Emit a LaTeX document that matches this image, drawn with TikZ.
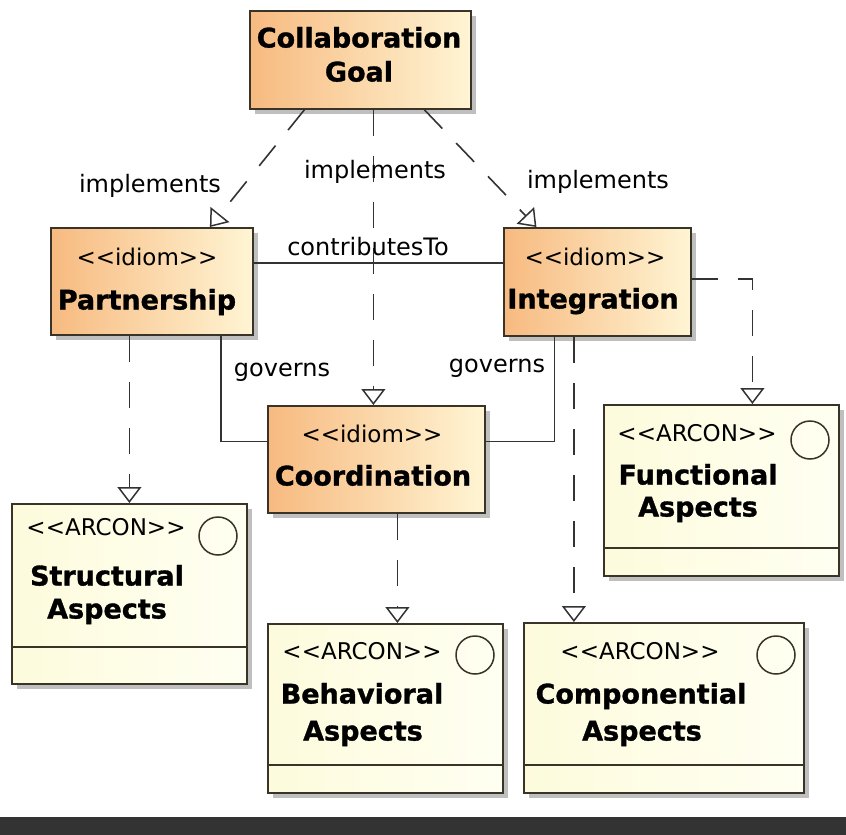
\documentclass[tikz,border=0pt]{standalone}
\usepackage{fontspec}
\setmainfont{DejaVu Sans}[BoldFeatures={FakeBold=1.2}]
\usetikzlibrary{arrows.meta,shadows,calc}
\definecolor{idL}{HTML}{F7BA80}
\definecolor{idM}{HTML}{FBD9A8}
\definecolor{idR}{HTML}{FFF5D4}
\definecolor{arL}{HTML}{FDFBDC}
\definecolor{arR}{HTML}{FFFFF2}
\definecolor{bordercol}{HTML}{3A3428}
\definecolor{linecol}{HTML}{333333}
\definecolor{barcol}{HTML}{333333}
\begin{document}
\begin{tikzpicture}[x=1pt,y=-1pt,
  box/.style={draw=bordercol, line width=1.8pt, anchor=north west, inner sep=0pt,
    drop shadow={shadow xshift=5pt, shadow yshift=-5pt, fill=black!25, opacity=1}},
  idiombox/.style={box, left color=idL, middle color=idM, right color=idR},
  arconbox/.style={box, left color=arL, right color=arR},
  stereo/.style={font=\fontsize{23}{25}\selectfont, inner sep=0pt, text height=16pt, text depth=0pt},
  nm/.style={font=\fontsize{27}{30}\selectfont\bfseries, inner sep=0pt, text height=19pt, text depth=0pt},
  lbl/.style={font=\fontsize{24}{26}\selectfont, inner sep=0pt, text height=13pt, text depth=0pt},
  icon/.style={circle, draw=bordercol, line width=1.5pt, minimum size=38pt, inner sep=0pt},
  sepline/.style={draw=bordercol, line width=1.8pt},
  dep/.style={draw=linecol, line width=1.6pt, dash pattern=on 26pt off 20pt,
    -{Triangle[open, length=16pt, width=24pt, line width=1.5pt]}},
  assoc/.style={draw=linecol, line width=1.6pt}
]
\useasboundingbox (0,0) rectangle (846,835);
\fill[barcol] (0,817) rectangle (846,835);

% boxes
\node[idiombox, minimum width=221pt, minimum height=98pt] (goal) at (249,10) {};
\node[idiombox, minimum width=202pt, minimum height=107pt] (part) at (50,227) {};
\node[idiombox, minimum width=187pt, minimum height=108pt] (integ) at (503,227) {};
\node[idiombox, minimum width=217pt, minimum height=107pt] (coord) at (267,405) {};
\node[arconbox, minimum width=235pt, minimum height=180pt] (struct) at (11,503) {};
\node[arconbox, minimum width=235pt, minimum height=171pt] (func) at (603,404) {};
\node[arconbox, minimum width=235pt, minimum height=169pt] (behav) at (267,623) {};
\node[arconbox, minimum width=280pt, minimum height=170pt] (comp) at (523,622) {};

% compartment separators
\draw[sepline] ($(struct.north west)+(0,144)$) -- ($(struct.north east)+(0,144)$);
\draw[sepline] ($(func.north west)+(0,144)$) -- ($(func.north east)+(0,144)$);
\draw[sepline] ($(behav.north west)+(0,142)$) -- ($(behav.north east)+(0,142)$);
\draw[sepline] ($(comp.north west)+(0,143)$) -- ($(comp.north east)+(0,143)$);

% icons
\node[icon] (structI) at (218,536) {};
\node[icon] (funcI) at (810,440) {};
\node[icon] (behavI) at (475,655) {};
\node[icon] (compI) at (776,655) {};

% texts
\node[nm] (goalT1) at (359,38) {Collaboration};
\node[nm] (goalT2) at (359,72) {Goal};
\node[stereo] (partS) at (147,257) {<{}<idiom>{}>};
\node[nm] (partN) at (147,300) {Partnership};
\node[stereo] (integS) at (595,257) {<{}<idiom>{}>};
\node[nm] (integN) at (593,299) {Integration};
\node[stereo] (coordS) at (372,434) {<{}<idiom>{}>};
\node[nm] (coordN) at (373,476) {Coordination};
\node[stereo] (structS) at (106,527) {<{}<ARCON>{}>};
\node[nm] (structN1) at (107,576) {Structural};
\node[nm] (structN2) at (107,609) {Aspects};
\node[stereo] (funcS) at (697,433) {<{}<ARCON>{}>};
\node[nm] (funcN1) at (698,475) {Functional};
\node[nm] (funcN2) at (698,507) {Aspects};
\node[stereo] (behavS) at (362,651) {<{}<ARCON>{}>};
\node[nm] (behavN1) at (362,694) {Behavioral};
\node[nm] (behavN2) at (363,731) {Aspects};
\node[stereo] (compS) at (640,651) {<{}<ARCON>{}>};
\node[nm] (compN1) at (641,694) {Componential};
\node[nm] (compN2) at (642,731) {Aspects};

% implements
\draw[dep] ($(goal.south)+(-56,0)$) -- ($(part.north)+(58,0)$);
\coordinate (cn) at ($(coord.north)+(-3,0)$);
\draw[dep] (goal.south -| cn) -- (cn);
\draw[dep] ($(goal.south)+(64,0)$) -- ($(integ.north)+(-61,0)$);
\node[lbl] (impl1) at (150,186) {implements};
\node[lbl] (impl2) at (375,172) {implements};
\node[lbl] (impl3) at (598,182) {implements};

% contributesTo
\coordinate (ct) at ($(part.north east)+(0,36)$);
\draw[assoc] (ct) -- (integ.west |- ct);
\node[lbl] (contr) at (368,249) {contributesTo};

% governs
\draw[assoc] ($(part.south)+(69,0)$) |- ($(coord.west)+(0,-18)$);
\draw[assoc] ($(integ.south)+(-43,0)$) |- ($(coord.east)+(0,-18)$);
\node[lbl] (gov1) at (282,370) {governs};
\node[lbl] (gov2) at (497,366) {governs};

% realisation arrows
\draw[dep] (part.south -| struct.north) -- (struct.north);
\coordinate (bn) at ($(behav.north)+(12,0)$);
\draw[dep] (coord.south -| bn) -- (bn);
\coordinate (cpn) at ($(comp.north)+(-90,0)$);
\draw[dep] (integ.south -| cpn) -- (cpn);
\coordinate (fn) at ($(func.north)+(31,0)$);
\draw[dep] ($(integ.east)+(0,-3)$) -| (fn);
\end{tikzpicture}
\end{document}
